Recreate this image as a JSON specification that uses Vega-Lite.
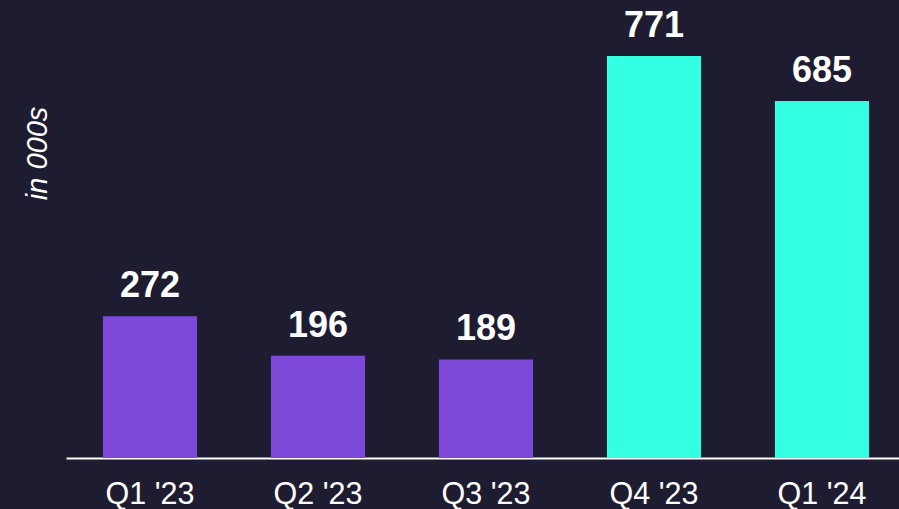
{
  "$schema": "https://vega.github.io/schema/vega-lite/v6.json",
  "autosize": {"type": "none"},
  "padding": {"left": 66, "top": 41, "right": 0, "bottom": 51},
  "width": 840,
  "height": 417,
  "background": "#1e1c30",
  "config": {
    "view": {"stroke": null},
    "font": "Liberation Sans"
  },
  "data": {
    "values": [
      {"quarter": "Q1 '23", "value": 272, "phase": "before"},
      {"quarter": "Q2 '23", "value": 196, "phase": "before"},
      {"quarter": "Q3 '23", "value": 189, "phase": "before"},
      {"quarter": "Q4 '23", "value": 771, "phase": "after"},
      {"quarter": "Q1 '24", "value": 685, "phase": "after"}
    ]
  },
  "encoding": {
    "x": {
      "field": "quarter",
      "type": "nominal",
      "sort": null,
      "scale": {"paddingInner": 0.44, "paddingOuter": 0.22},
      "axis": {
        "title": null,
        "labelAngle": 0,
        "labelColor": "#ffffff",
        "labelFontSize": 30.5,
        "labelFont": "Liberation Sans",
        "labelPadding": 21,
        "ticks": false,
        "domainColor": "#ffffff",
        "domainWidth": 2,
        "grid": false
      }
    },
    "y": {
      "field": "value",
      "type": "quantitative",
      "scale": {"domain": [0, 800], "nice": false},
      "axis": {
        "title": "in 000s",
        "titleColor": "#ffffff",
        "titleFont": "Liberation Sans",
        "titleFontSize": 29,
        "titleFontWeight": "normal",
        "titleFontStyle": "italic",
        "titleAngle": -90,
        "titleAlign": "center",
        "titleBaseline": "alphabetic",
        "titleX": -20,
        "titleY": 112,
        "labels": false,
        "ticks": false,
        "domain": false,
        "grid": false
      }
    }
  },
  "layer": [
    {
      "mark": {"type": "bar"},
      "encoding": {
        "color": {
          "field": "phase",
          "type": "nominal",
          "scale": {"domain": ["before", "after"], "range": ["#7c48d8", "#33ffe2"]},
          "legend": null
        }
      }
    },
    {
      "mark": {
        "type": "text",
        "dy": -19,
        "baseline": "alphabetic",
        "fontSize": 36,
        "fontWeight": "bold",
        "color": "#ffffff",
        "font": "Liberation Sans"
      },
      "encoding": {
        "text": {"field": "value", "type": "quantitative"}
      }
    }
  ]
}
